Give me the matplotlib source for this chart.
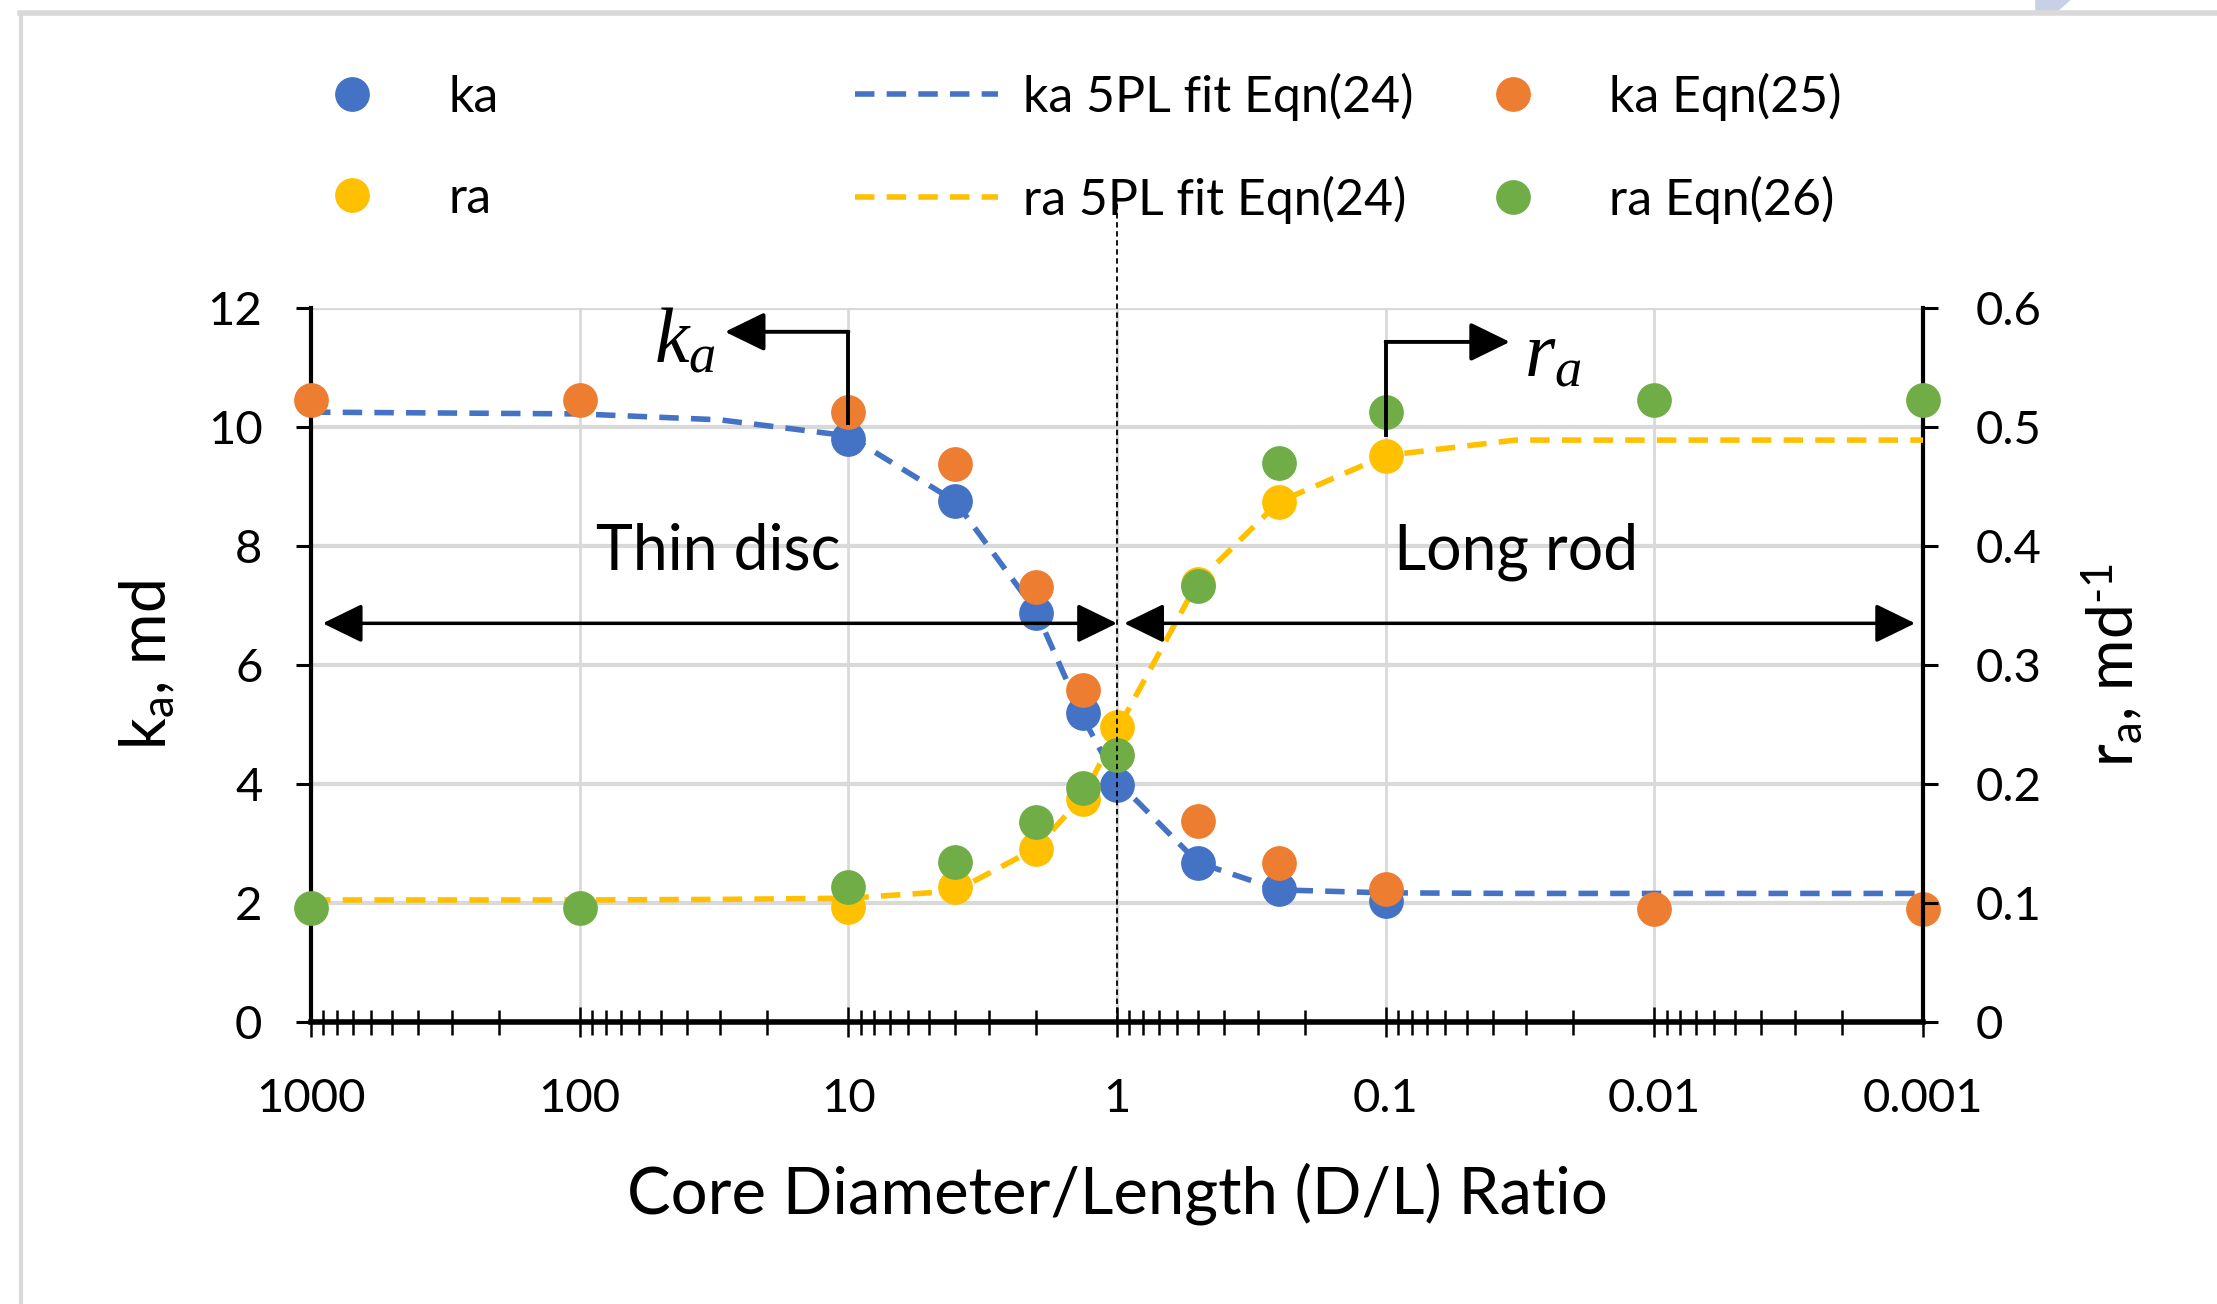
import matplotlib
matplotlib.use('Agg')
import matplotlib.pyplot as plt
from matplotlib.lines import Line2D
from matplotlib.patches import Polygon
from matplotlib.ticker import FixedLocator, LogLocator, NullFormatter

plt.rcParams['font.family'] = ['Lato', 'DejaVu Sans']
plt.rcParams['mathtext.fontset'] = 'custom'
plt.rcParams['mathtext.rm'] = 'Lato'
plt.rcParams['mathtext.it'] = 'Liberation Serif:italic'

# data (D/L ratio on x)
x_meas = [10, 4, 2, 1.333, 1, 0.5, 0.25, 0.1]
ka = [9.80, 8.76, 6.87, 5.19, 3.98, 2.67, 2.24, 2.03]
ra = [0.097, 0.113, 0.145, 0.187, 0.248, 0.368, 0.437, 0.476]

x_fit = [1000, 100, 30, 10, 4, 2, 1.333, 1, 0.5, 0.25, 0.1, 0.033, 0.01, 0.001]
ka_fit = [10.25, 10.22, 10.12, 9.85, 8.75, 6.9, 5.1, 4.05, 2.68, 2.22, 2.17, 2.16, 2.16, 2.16]
ra_fit = [0.1025, 0.1025, 0.103, 0.104, 0.11, 0.146, 0.19, 0.245, 0.37, 0.437, 0.476, 0.489, 0.489, 0.489]

x_ka25 = [1000, 100, 10, 4, 2, 1.333, 0.5, 0.25, 0.1, 0.01, 0.001]
ka_eq25 = [10.45, 10.45, 10.25, 9.37, 7.31, 5.58, 3.37, 2.67, 2.24, 1.89, 1.89]

x_ra26 = [1000, 100, 10, 4, 2, 1.333, 1, 0.5, 0.25, 0.1, 0.01, 0.001]
ra_eq26 = [0.096, 0.096, 0.113, 0.134, 0.168, 0.197, 0.224, 0.366, 0.470, 0.513, 0.523, 0.523]

xticks = [1000, 100, 10, 1, 0.1, 0.01, 0.001]
xticklabels = ['1000', '100', '10', '1', '0.1', '0.01', '0.001']

BLUE, ORANGE, YELLOW, GREEN = '#4472C4', '#ED7D31', '#FFC000', '#70AD47'
GRID = '#D9D9D9'
MS = 24
dash = (0, (3.5, 2.2))

fig = plt.figure(figsize=(22.17, 13.04), dpi=100)
ax = fig.add_axes([0.1403, 0.2163, 0.7271, 0.5475])
ax2 = ax.twinx()

ax.set_xscale('log')
ax.set_xlim(1000, 0.001)
ax.set_ylim(0, 12)
ax2.set_ylim(0, 0.6)

# grid on the bottom axes
ax.set_axisbelow(True)
ax.yaxis.grid(True, color=GRID, lw=3)
ax.xaxis.grid(True, which='major', color=GRID, lw=2)

# ka series
ax.plot(x_meas, ka, 'o', color=BLUE, ms=MS, zorder=3, clip_on=False)
ax.plot(x_fit, ka_fit, color=BLUE, lw=4, ls=dash, zorder=3)
ax.plot(x_ka25, ka_eq25, 'o', color=ORANGE, ms=MS, zorder=3, clip_on=False)

# ra series
ax2.plot(x_meas, ra, 'o', color=YELLOW, ms=MS, zorder=3, clip_on=False)
ax2.plot(x_fit, ra_fit, color=YELLOW, lw=4, ls=dash, zorder=3)
ax2.plot(x_ra26, ra_eq26, 'o', color=GREEN, ms=MS, zorder=3, clip_on=False)

# axes styling
ax.xaxis.set_major_locator(FixedLocator(xticks))
ax.set_xticklabels(xticklabels)
ax.xaxis.set_minor_locator(LogLocator(base=10, subs=range(2, 10), numticks=100))
ax.xaxis.set_minor_formatter(NullFormatter())
ax.set_yticks(range(0, 13, 2))
ax2.set_yticks([0, 0.1, 0.2, 0.3, 0.4, 0.5, 0.6])
ax2.set_yticklabels(['0', '0.1', '0.2', '0.3', '0.4', '0.5', '0.6'])

ax.tick_params(axis='x', which='major', direction='inout', length=22, width=1.8, pad=29, labelsize=34)
ax.tick_params(axis='x', which='minor', direction='inout', length=18, width=1.8)
ax.tick_params(axis='y', direction='out', length=11, width=2.2, pad=24, labelsize=34)
ax2.tick_params(axis='y', direction='out', length=11, width=2.2, pad=27, labelsize=34)

for s in ['top', 'right']:
    ax.spines[s].set_visible(False)
for s in ['top', 'left', 'bottom']:
    ax2.spines[s].set_visible(False)
ax.spines['left'].set_linewidth(3)
ax.spines['bottom'].set_linewidth(4)
ax2.spines['right'].set_linewidth(3)

ax.set_xlabel('Core Diameter/Length (D/L) Ratio', fontsize=47)
ax.xaxis.set_label_coords(0.5, -0.196)
ax.set_ylabel(r'k$_\mathrm{a}$, md', fontsize=45)
ax.yaxis.set_label_coords(-0.083, 0.5)
ax2.set_ylabel(r'r$_\mathrm{a}$, md$^{\text{-1}}$', fontsize=45)
ax2.yaxis.set_label_coords(1.097, 0.5)

# annotations drawn on top, in ka coordinates
T = ax.transData
ax2.plot([1, 1], [0, 13.8], transform=T, color='black', lw=1.3, ls=(0, (3, 2)), clip_on=False, zorder=5)

arr = dict(arrowstyle='<|-|>,head_length=0.82,head_width=0.4', mutation_scale=30,
           color='black', lw=2.5, shrinkA=0, shrinkB=0)
ax2.annotate('', xy=(1, 6.7), xycoords=T, xytext=(905, 6.7), textcoords=T, arrowprops=arr, zorder=6)
ax2.annotate('', xy=(0.00107, 6.7), xycoords=T, xytext=(0.941, 6.7), textcoords=T, arrowprops=arr, zorder=6)

one = dict(arrowstyle='-|>,head_length=0.82,head_width=0.4', mutation_scale=30,
           color='black', lw=2.8, shrinkA=0, shrinkB=0)
ax2.plot([10, 10], [10.07, 11.6], transform=T, color='black', lw=2.8, zorder=6)
ax2.annotate('', xy=(28.8, 11.6), xycoords=T, xytext=(10, 11.6), textcoords=T, arrowprops=one, zorder=6)
ax2.plot([0.1, 0.1], [9.87, 11.43], transform=T, color='black', lw=2.8, zorder=6)
ax2.annotate('', xy=(0.0345, 11.43), xycoords=T, xytext=(0.1, 11.43), textcoords=T, arrowprops=one, zorder=6)

ax2.text(40.5, 11.45, r'$k_a$', transform=T, fontsize=56, ha='center', va='center', zorder=6)
ax2.text(0.0238, 11.2, r'$r_a$', transform=T, fontsize=56, ha='center', va='center', zorder=6)
ax2.text(30.5, 7.9, 'Thin disc', transform=T, fontsize=45, ha='center', va='center', zorder=6)
ax2.text(0.0328, 7.9, 'Long rod', transform=T, fontsize=45, ha='center', va='center', zorder=6)

ax.set_ylim(0, 12)
ax2.set_ylim(0, 0.6)

# legend, three columns as in the original
h_ka = Line2D([], [], marker='o', ls='none', color=BLUE, ms=MS)
h_ra = Line2D([], [], marker='o', ls='none', color=YELLOW, ms=MS)
h_kf = Line2D([], [], color=BLUE, lw=4, ls=dash)
h_rf = Line2D([], [], color=YELLOW, lw=4, ls=dash)
h_k25 = Line2D([], [], marker='o', ls='none', color=ORANGE, ms=MS)
h_r26 = Line2D([], [], marker='o', ls='none', color=GREEN, ms=MS)
cols = [([h_ka, h_ra], ['ka', 'ra'], 0.1268),
        ([h_kf, h_rf], ['ka 5PL fit Eqn(24)', 'ra 5PL fit Eqn(24)'], 0.3857),
        ([h_k25, h_r26], ['ka Eqn(25)', 'ra Eqn(26)'], 0.6504)]
for hs, ls_, x0 in cols:
    fig.legend(hs, ls_, loc='center left', bbox_to_anchor=(x0, 0.8865), frameon=False,
               fontsize=36, handlelength=2.85, handletextpad=0.5, labelspacing=1.1,
               borderpad=0, borderaxespad=0)

# outer frame lines of the source image
fig.add_artist(Line2D([0.009, 1.0], [0.990, 0.990], transform=fig.transFigure, color=GRID, lw=4))
fig.add_artist(Line2D([0.0095, 0.0095], [0, 0.990], transform=fig.transFigure, color=GRID, lw=3))
fig.add_artist(Polygon([[0.918, 1.0], [0.934, 1.0], [0.928, 0.991], [0.918, 0.991]],
                       closed=True, transform=fig.transFigure, color='#C9D0E6', lw=0))

fig.savefig('out.png', dpi=100)
